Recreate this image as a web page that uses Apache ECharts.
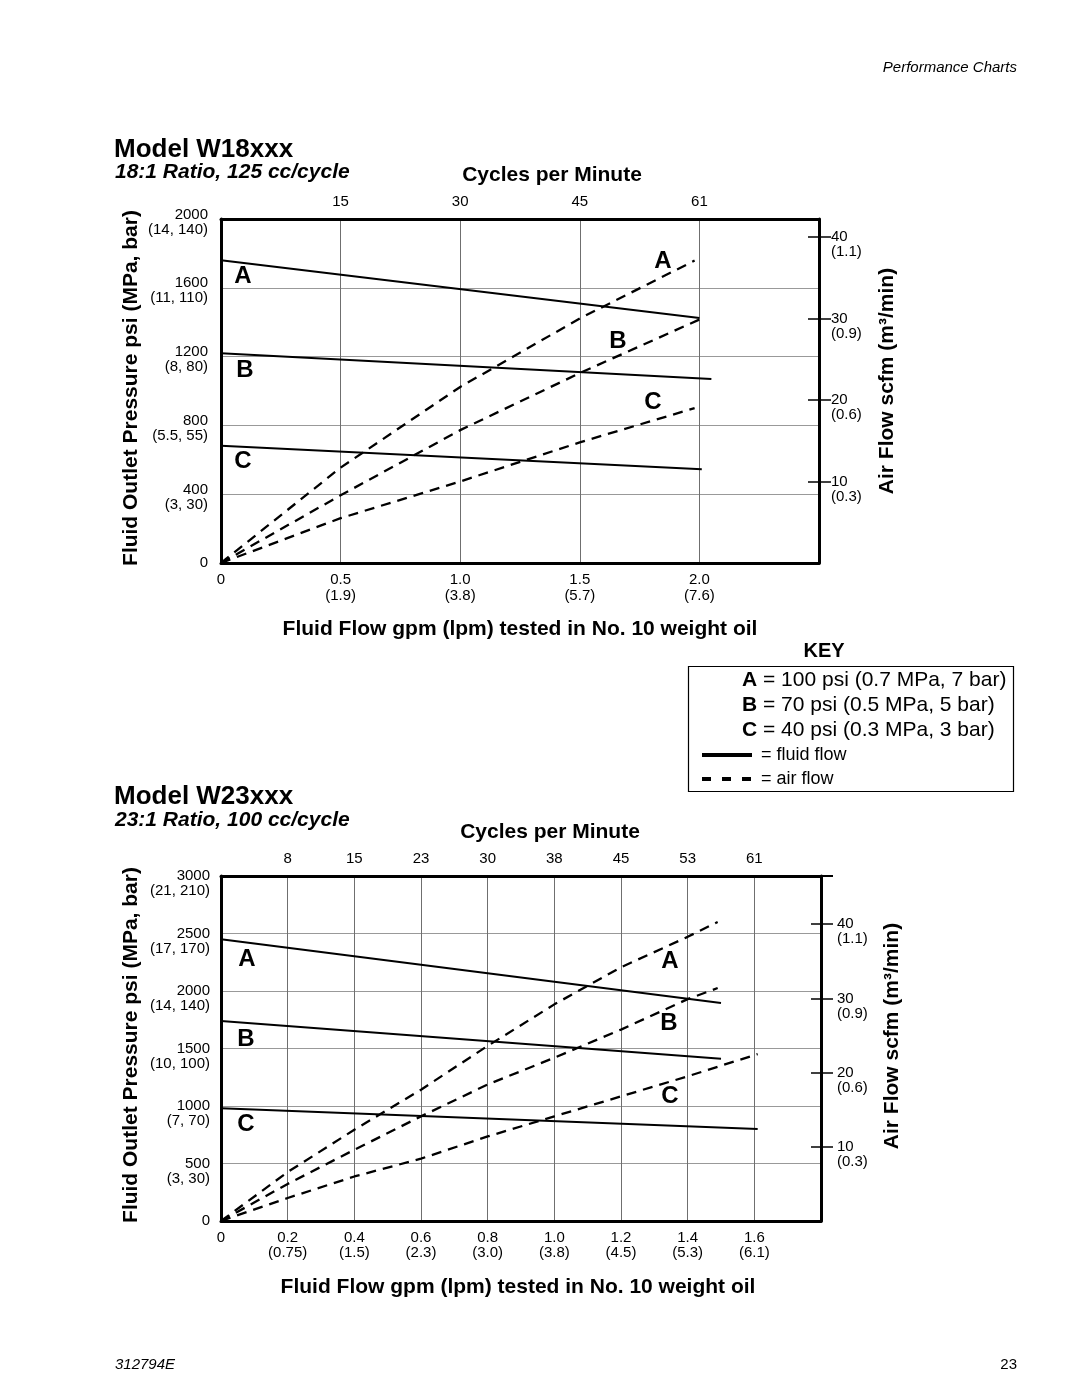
<!DOCTYPE html>
<html>
<head>
<meta charset="utf-8">
<script src="https://cdn.jsdelivr.net/npm/echarts@6/dist/echarts.min.js"></script>
<style>
html,body{margin:0;padding:0;background:#fff;}
#c{width:1080px;height:1397px;}
</style>
</head>
<body>
<div id="c"></div>
<script>
// ---------- Model W18xxx data ----------
const w18GpmLabels = ['0', '0.5', '1.0', '1.5', '2.0'];
const w18LpmLabels = ['', '(1.9)', '(3.8)', '(5.7)', '(7.6)'];
const w18CycleLabels = ['', '15', '30', '45', '61'];
const w18PsiLabels = ['0', '400', '800', '1200', '1600', '2000'];
const w18MpaBarLabels = ['', '(3, 30)', '(5.5, 55)', '(8, 80)', '(11, 110)', '(14, 140)'];
const w18ScfmTicks = [10, 20, 30, 40];
const w18M3Labels = ['(0.3)', '(0.6)', '(0.9)', '(1.1)'];

const w18FluidA = [[0, 1760], [2.0, 1425]];
const w18FluidB = [[0, 1220], [2.05, 1070]];
const w18FluidC = [[0, 682], [2.01, 545]];
const w18AirA = [[0, 0], [0.5, 11.7], [1.0, 21.6], [1.5, 30.0], [1.98, 37.1]];
const w18AirB = [[0, 0], [0.5, 8.3], [1.0, 16.3], [1.5, 23.3], [2.01, 30.0]];
const w18AirC = [[0, 0], [0.5, 5.5], [1.0, 10.0], [1.5, 14.8], [1.98, 19.0]];

// ---------- Model W23xxx data ----------
const w23GpmLabels = ['0', '0.2', '0.4', '0.6', '0.8', '1.0', '1.2', '1.4', '1.6'];
const w23LpmLabels = ['', '(0.75)', '(1.5)', '(2.3)', '(3.0)', '(3.8)', '(4.5)', '(5.3)', '(6.1)'];
const w23CycleLabels = ['', '8', '15', '23', '30', '38', '45', '53', '61'];
const w23PsiLabels = ['0', '500', '1000', '1500', '2000', '2500', '3000'];
const w23MpaBarLabels = ['', '(3, 30)', '(7, 70)', '(10, 100)', '(14, 140)', '(17, 170)', '(21, 210)'];
const w23ScfmTicks = [10, 20, 30, 40];
const w23M3Labels = ['(0.3)', '(0.6)', '(0.9)', '(1.1)'];

const w23FluidA = [[0, 2450], [1.5, 1895]];
const w23FluidB = [[0, 1740], [1.5, 1410]];
const w23FluidC = [[0, 980], [1.61, 800]];
const w23AirA = [[0, 0], [0.2, 6.6], [0.4, 12.3], [0.6, 17.7], [0.8, 23.6], [1.0, 29.2], [1.2, 34.2], [1.4, 38.3], [1.49, 40.3]];
const w23AirB = [[0, 0], [0.2, 5.0], [0.4, 9.6], [0.6, 14.1], [0.8, 18.4], [1.0, 22.0], [1.2, 25.8], [1.4, 29.9], [1.49, 31.4]];
const w23AirC = [[0, 0], [0.2, 3.1], [0.4, 6.0], [0.6, 8.4], [0.8, 11.4], [1.0, 14.1], [1.2, 16.8], [1.4, 19.5], [1.61, 22.5]];

const pressureLetters = ['A', 'B', 'C'];
const keyRows = ['= 100 psi (0.7 MPa, 7 bar)', '= 70 psi (0.5 MPa, 5 bar)', '= 40 psi (0.3 MPa, 3 bar)'];

// ---------- helpers ----------
const FONT = '"Liberation Sans", Arial, Helvetica, sans-serif';
const BLACK = '#000';

function pick(arr, i) { return (i >= 0 && i < arr.length) ? arr[i] : ''; }

function fluidSeries(data, xi, yi) {
  return { type: 'line', xAxisIndex: xi, yAxisIndex: yi, data: data, showSymbol: false, symbol: 'none',
    lineStyle: { color: BLACK, width: 2 }, z: 5, silent: true, animation: false };
}
function airSeries(data, xi, yi) {
  return { type: 'line', xAxisIndex: xi, yAxisIndex: yi, data: data, showSymbol: false, symbol: 'none',
    lineStyle: { color: BLACK, width: 2.3, type: [10, 7] }, z: 5, silent: true, animation: false };
}
function txt(x, y, text, size, opts) {
  opts = opts || {};
  return {
    type: 'text', x: x, y: y, rotation: opts.rotation || 0, z: 50,
    style: {
      text: text, fill: BLACK, fontFamily: FONT, fontSize: size,
      fontWeight: opts.weight || 'normal', fontStyle: opts.style || 'normal',
      align: opts.align || 'left', textAlign: opts.align || 'left',
      verticalAlign: 'middle', textVerticalAlign: 'middle',
      rich: opts.rich
    }
  };
}

const axisLineThick = { show: true, onZero: false, lineStyle: { color: BLACK, width: 3 } };
const gridV = { show: true, lineStyle: { color: '#6f6f6f', width: 1 } };
const gridH = { show: true, lineStyle: { color: '#999', width: 1 } };
const labelBase = { color: BLACK, fontFamily: FONT, fontSize: 15, lineHeight: 15 };
const leftRich = {
  sp: { fontSize: 4, lineHeight: 6, fontFamily: FONT },
  a: { fontSize: 15, lineHeight: 15, fontFamily: FONT, color: BLACK, align: 'right' },
  b: { fontSize: 15, lineHeight: 15, fontFamily: FONT, color: BLACK, align: 'right' }
};

const chart = echarts.init(document.getElementById('c'), null, { renderer: 'canvas' });

const option = {
  animation: false,
  backgroundColor: '#fff',
  grid: [
    { left: 221, top: 219, width: 598, height: 344 },
    { left: 221, top: 876, width: 600, height: 345 }
  ],
  xAxis: [
    // W18 bottom gpm
    { type: 'value', gridIndex: 0, position: 'bottom', min: 0, max: 2.5, interval: 0.5,
      axisLine: axisLineThick, axisTick: { show: false }, splitLine: gridV,
      axisLabel: Object.assign({}, labelBase, { margin: 9, lineHeight: 16,
        formatter: v => { const i = Math.round(v / 0.5); const a = pick(w18GpmLabels, i), b = pick(w18LpmLabels, i); return b ? a + '\n' + b : a; } }) },
    // W18 top cycles
    { type: 'value', gridIndex: 0, position: 'top', min: 0, max: 2.5, interval: 0.5,
      axisLine: axisLineThick, axisTick: { show: false }, splitLine: { show: false },
      axisLabel: Object.assign({}, labelBase, { margin: 10, formatter: v => pick(w18CycleLabels, Math.round(v / 0.5)) }) },
    // W23 bottom gpm
    { type: 'value', gridIndex: 1, position: 'bottom', min: 0, max: 1.8, interval: 0.2,
      axisLine: axisLineThick, axisTick: { show: false }, splitLine: gridV,
      axisLabel: Object.assign({}, labelBase, { margin: 9, lineHeight: 15,
        formatter: v => { const i = Math.round(v / 0.2); const a = pick(w23GpmLabels, i), b = pick(w23LpmLabels, i); return b ? a + '\n' + b : a; } }) },
    // W23 top cycles
    { type: 'value', gridIndex: 1, position: 'top', min: 0, max: 1.8, interval: 0.2,
      axisLine: axisLineThick, axisTick: { show: false }, splitLine: { show: false },
      axisLabel: Object.assign({}, labelBase, { margin: 10, formatter: v => pick(w23CycleLabels, Math.round(v / 0.2)) }) }
  ],
  yAxis: [
    // 0: W18 psi
    { type: 'value', gridIndex: 0, position: 'left', min: 0, max: 2000, interval: 400,
      axisLine: axisLineThick, axisTick: { show: false }, splitLine: gridH,
      axisLabel: Object.assign({}, labelBase, { margin: 13, align: 'right', lineHeight: 15, rich: leftRich,
        formatter: v => { const i = Math.round(v / 400); const a = pick(w18PsiLabels, i), b = pick(w18MpaBarLabels, i); return b ? '{sp| }\n{a|' + a + '}\n{b|' + b + '}' : '{a|' + a + '}'; } }) },
    // 1: W18 scfm (outer ticks + labels)
    { type: 'value', gridIndex: 0, position: 'right', min: 0, max: 42.2,
      axisLine: axisLineThick, splitLine: { show: false },
      axisTick: { show: true, inside: false, length: 12, customValues: w18ScfmTicks, lineStyle: { color: BLACK, width: 1.5 } },
      axisLabel: Object.assign({}, labelBase, { margin: 12, lineHeight: 15, align: 'left', customValues: w18ScfmTicks,
        formatter: v => { const i = w18ScfmTicks.indexOf(Math.round(v)); return i < 0 ? '' : ' \n' + w18ScfmTicks[i] + '\n' + w18M3Labels[i]; } }) },
    // 2: W18 scfm inner ticks
    { type: 'value', gridIndex: 0, position: 'right', min: 0, max: 42.2,
      axisLine: { show: false, onZero: false }, splitLine: { show: false }, axisLabel: { show: false },
      axisTick: { show: true, inside: true, length: 11, customValues: w18ScfmTicks, lineStyle: { color: BLACK, width: 1.5 } } },
    // 3: W23 psi
    { type: 'value', gridIndex: 1, position: 'left', min: 0, max: 3000, interval: 500,
      axisLine: axisLineThick, axisTick: { show: false }, splitLine: gridH,
      axisLabel: Object.assign({}, labelBase, { margin: 11, align: 'right', lineHeight: 15,
        formatter: v => { const i = Math.round(v / 500); const a = pick(w23PsiLabels, i), b = pick(w23MpaBarLabels, i); return b ? ' \n' + a + '\n' + b : a; } }) },
    // 4: W23 scfm
    { type: 'value', gridIndex: 1, position: 'right', min: 0, max: 46.5,
      axisLine: axisLineThick, splitLine: { show: false },
      axisTick: { show: true, inside: false, length: 12, customValues: w23ScfmTicks, lineStyle: { color: BLACK, width: 1.5 } },
      axisLabel: Object.assign({}, labelBase, { margin: 16, lineHeight: 15, align: 'left', customValues: w23ScfmTicks,
        formatter: v => { const i = w23ScfmTicks.indexOf(Math.round(v)); return i < 0 ? '' : ' \n' + w23ScfmTicks[i] + '\n' + w23M3Labels[i]; } }) },
    // 5: W23 scfm inner ticks
    { type: 'value', gridIndex: 1, position: 'right', min: 0, max: 46.5,
      axisLine: { show: false, onZero: false }, splitLine: { show: false }, axisLabel: { show: false },
      axisTick: { show: true, inside: true, length: 10, customValues: w23ScfmTicks, lineStyle: { color: BLACK, width: 1.5 } } }
  ],
  series: [
    fluidSeries(w18FluidA, 0, 0), fluidSeries(w18FluidB, 0, 0), fluidSeries(w18FluidC, 0, 0),
    airSeries(w18AirA, 0, 1), airSeries(w18AirB, 0, 1), airSeries(w18AirC, 0, 1),
    fluidSeries(w23FluidA, 2, 3), fluidSeries(w23FluidB, 2, 3), fluidSeries(w23FluidC, 2, 3),
    airSeries(w23AirA, 2, 4), airSeries(w23AirB, 2, 4), airSeries(w23AirC, 2, 4)
  ],
  graphic: { elements: [] }
};

const g = option.graphic.elements;
// header / footer
g.push(txt(1017, 68, 'Performance Charts', 15, { style: 'italic', align: 'right' }));
g.push(txt(115, 1365, '312794E', 15, { style: 'italic' }));
g.push(txt(1017, 1365, '23', 15, { align: 'right' }));

// W18 texts
g.push(txt(114, 150, 'Model W18xxx', 26, { weight: 'bold' }));
g.push(txt(115, 172, '18:1 Ratio, 125 cc/cycle', 21, { weight: 'bold', style: 'italic' }));
g.push(txt(552, 175, 'Cycles per Minute', 21, { weight: 'bold', align: 'center' }));
g.push(txt(520, 629, 'Fluid Flow gpm (lpm) tested in No. 10 weight oil', 21, { weight: 'bold', align: 'center' }));
g.push(txt(131, 388, 'Fluid Outlet Pressure psi (MPa, bar)', 21, { weight: 'bold', align: 'center', rotation: Math.PI / 2 }));
g.push(txt(887, 381, 'Air Flow scfm (m³/min)', 21, { weight: 'bold', align: 'center', rotation: Math.PI / 2 }));

// W23 texts
g.push(txt(114, 797, 'Model W23xxx', 26, { weight: 'bold' }));
g.push(txt(115, 820, '23:1 Ratio, 100 cc/cycle', 21, { weight: 'bold', style: 'italic' }));
g.push(txt(550, 832, 'Cycles per Minute', 21, { weight: 'bold', align: 'center' }));
g.push(txt(518, 1287, 'Fluid Flow gpm (lpm) tested in No. 10 weight oil', 21, { weight: 'bold', align: 'center' }));
g.push(txt(131, 1045, 'Fluid Outlet Pressure psi (MPa, bar)', 21, { weight: 'bold', align: 'center', rotation: Math.PI / 2 }));
g.push(txt(892, 1036, 'Air Flow scfm (m³/min)', 21, { weight: 'bold', align: 'center', rotation: Math.PI / 2 }));

// curve letters
const w18LeftLetterPos = [[243, 276], [245, 370], [243, 461]];
const w18RightLetterPos = [[663, 261], [618, 341], [653, 402]];
const w23LeftLetterPos = [[247, 959], [246, 1039], [246, 1124]];
const w23RightLetterPos = [[670, 961], [669, 1023], [670, 1096]];
[w18LeftLetterPos, w18RightLetterPos, w23LeftLetterPos, w23RightLetterPos].forEach(list => {
  list.forEach((p, i) => g.push(txt(p[0], p[1], pressureLetters[i], 24, { weight: 'bold', align: 'center' })));
});

// top border extension of lower chart
g.push({ type: 'line', z: 40, shape: { x1: 820, y1: 876, x2: 833, y2: 876 }, style: { stroke: BLACK, lineWidth: 2 } });

// KEY
g.push(txt(824, 651, 'KEY', 20, { weight: 'bold', align: 'center' }));
g.push({ type: 'rect', z: 40, shape: { x: 688.5, y: 666.5, width: 325, height: 125 }, style: { fill: '#fff', stroke: BLACK, lineWidth: 1.2 } });
const keyY = [680, 705, 730];
keyRows.forEach((r, i) => {
  g.push(txt(742, keyY[i], '{b|' + pressureLetters[i] + '} ' + r, 21, { rich: { b: { fontWeight: 'bold', fontSize: 21, fontFamily: FONT, fill: BLACK } } }));
});
g.push({ type: 'line', z: 45, shape: { x1: 702, y1: 755, x2: 752, y2: 755 }, style: { stroke: BLACK, lineWidth: 4 } });
g.push(txt(761, 755, '= fluid flow', 18));
g.push({ type: 'line', z: 45, shape: { x1: 702, y1: 779, x2: 752, y2: 779 }, style: { stroke: BLACK, lineWidth: 4, lineDash: [9, 11] } });
g.push(txt(761, 779, '= air flow', 18));

chart.setOption(option);
</script>
</body>
</html>
